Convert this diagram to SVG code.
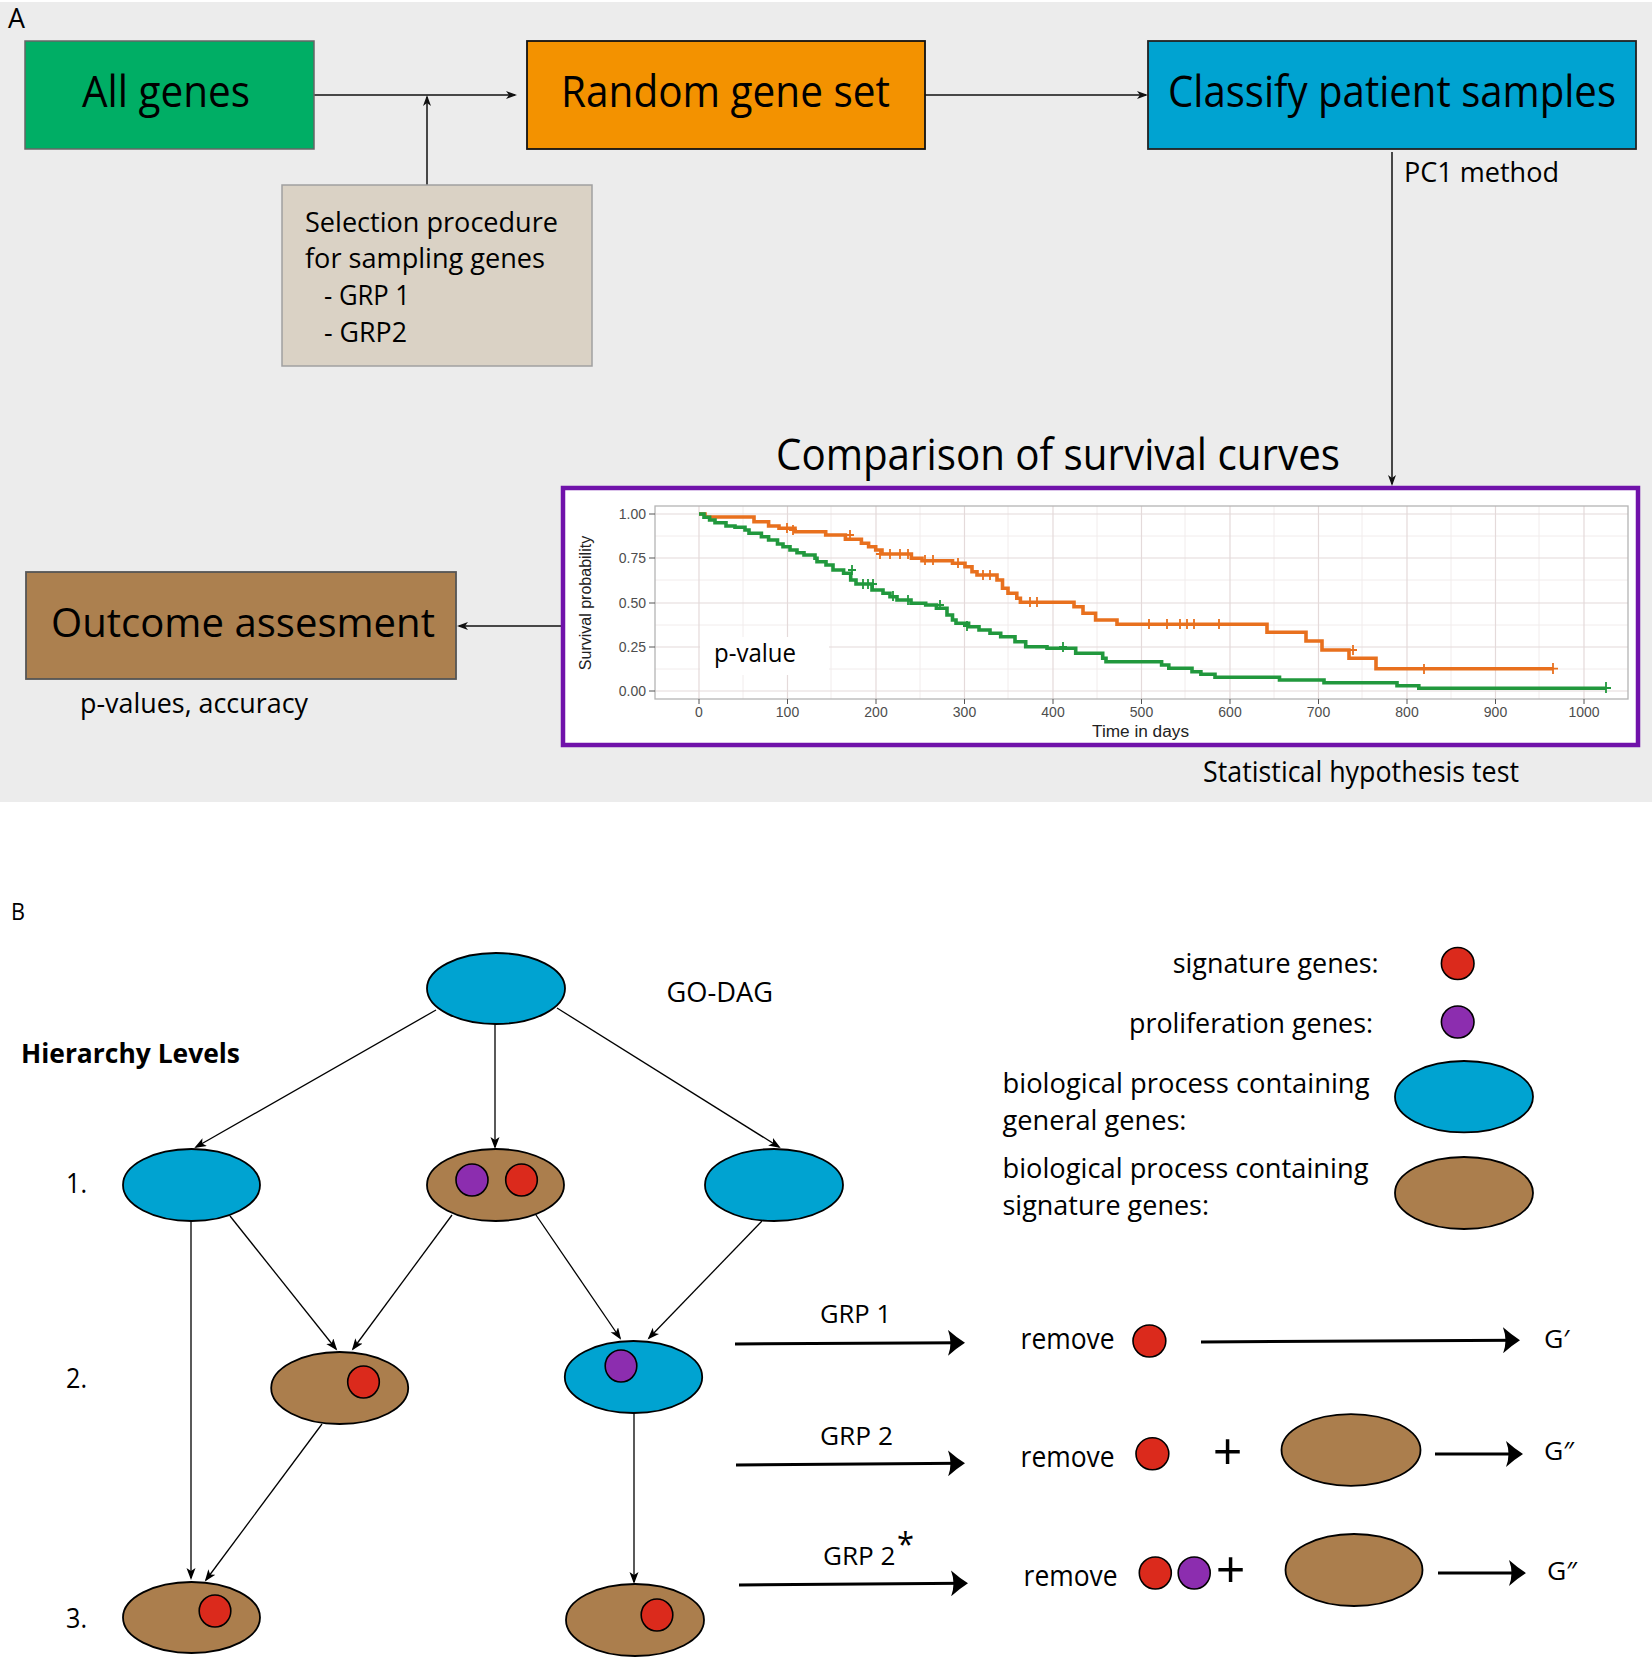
<svg xmlns="http://www.w3.org/2000/svg" width="1652" height="1657" viewBox="0 0 1652 1657">
<style>
.t{font-family:"Open Sans","Noto Sans","DejaVu Sans",sans-serif;fill:#000}
.ax{font-family:"Liberation Sans",Arial,sans-serif;fill:#4d4d4d;font-size:14px}
.blue{fill:#00A3D1;stroke:#000;stroke-width:1.8}
.brown{fill:#AB7E4D;stroke:#000;stroke-width:1.8}
.red{fill:#DB2A1C;stroke:#000;stroke-width:1.6}
.purple{fill:#8C2DAF;stroke:#000;stroke-width:1.6}
.conA{stroke:#111;stroke-width:1.5;fill:none;marker-end:url(#ma)}
.conB{stroke:#000;stroke-width:1.3;fill:none;marker-end:url(#mb)}
.conC{stroke:#000;stroke-width:3;fill:none;marker-end:url(#mc)}
.gmaj{stroke:#E4DADA;stroke-width:1.2}
.gmin{stroke:#F1ECEC;stroke-width:1}
</style>
<defs>
<marker id="ma" markerUnits="userSpaceOnUse" markerWidth="12" markerHeight="10" refX="9" refY="4" orient="auto"><path d="M0,0 L11,4 L0,8 L3,4 z" fill="#111"/></marker>
<marker id="mb" markerUnits="userSpaceOnUse" markerWidth="13" markerHeight="10" refX="10" refY="4.5" orient="auto"><path d="M0,0 L12,4.5 L0,9 L3,4.5 z" fill="#000"/></marker>
<marker id="mc" markerUnits="userSpaceOnUse" markerWidth="18" markerHeight="26" refX="13" refY="13" orient="auto"><path d="M0,0 Q9,8 17,13 Q9,18 0,26 Q5,13 0,0 z" fill="#000"/></marker>
</defs>
<rect x="0" y="0" width="1652" height="1657" fill="#fff"/>
<rect x="0" y="2" width="1652" height="800" fill="#ECECEC"/>
<text class="t" x="8" y="28" font-size="28" textLength="17" lengthAdjust="spacingAndGlyphs">A</text>

<g id="connectors">
<line class="conA" x1="311" y1="95" x2="515" y2="95"/>
<path class="conA" d="M427,185 V97"/>
<line class="conA" x1="925" y1="95" x2="1146" y2="95"/>
<path class="conA" d="M1392,152 V484"/>
<path class="conA" d="M562,626 H459"/>
<path class="conB" d="M436,1010 L196,1147"/>
<path class="conB" d="M495,1024 V1147"/>
<path class="conB" d="M557,1008 L779,1147"/>
<path class="conB" d="M191,1221 V1578"/>
<path class="conB" d="M230,1216 L336,1349"/>
<path class="conB" d="M452,1215 L353,1349"/>
<path class="conB" d="M536,1215 L620,1338"/>
<path class="conB" d="M762,1221 L649,1338"/>
<path class="conB" d="M322,1424 L206,1580"/>
<path class="conB" d="M634,1413 V1582"/>
<line class="conC" x1="735" y1="1344" x2="961" y2="1342.8"/>
<line class="conC" x1="1201" y1="1342" x2="1516" y2="1340.2"/>
<line class="conC" x1="736" y1="1465" x2="961" y2="1463.2"/>
<line class="conC" x1="1435" y1="1454" x2="1519" y2="1454"/>
<line class="conC" x1="739" y1="1585" x2="964" y2="1583.2"/>
<line class="conC" x1="1438" y1="1573" x2="1522" y2="1573"/>
</g>

<g id="all-genes">
<rect x="25" y="41" width="289" height="108" fill="#00AE65" stroke="#666" stroke-width="1.5"/>
<text class="t" x="82" y="107" font-size="43" textLength="168" lengthAdjust="spacingAndGlyphs">All genes</text>
</g>
<g id="random-gene-set">
<rect x="527" y="41" width="398" height="108" fill="#F39200" stroke="#111" stroke-width="1.8"/>
<text class="t" x="561" y="107" font-size="43" textLength="329" lengthAdjust="spacingAndGlyphs">Random gene set</text>
</g>
<g id="classify">
<rect x="1148" y="41" width="488" height="108" fill="#00A3D1" stroke="#222" stroke-width="1.8"/>
<text class="t" x="1168" y="107" font-size="43" textLength="448" lengthAdjust="spacingAndGlyphs">Classify patient samples</text>
</g>
<text class="t" x="1404" y="182" font-size="28" textLength="155" lengthAdjust="spacingAndGlyphs">PC1 method</text>
<g id="selection">
<rect x="282" y="185" width="310" height="181" fill="#DAD2C5" stroke="#A0A0A0" stroke-width="1.5"/>
<text class="t" x="305" y="232" font-size="28" textLength="253" lengthAdjust="spacingAndGlyphs">Selection procedure</text>
<text class="t" x="305" y="268" font-size="28" textLength="240" lengthAdjust="spacingAndGlyphs">for sampling genes</text>
<text class="t" x="324" y="305" font-size="28" textLength="86" lengthAdjust="spacingAndGlyphs">- GRP 1</text>
<text class="t" x="324" y="342" font-size="28" textLength="83" lengthAdjust="spacingAndGlyphs">- GRP2</text>
</g>

<g id="survival">
<text class="t" x="776" y="470" font-size="44" textLength="564" lengthAdjust="spacingAndGlyphs">Comparison of survival curves</text>
<rect x="563" y="488" width="1075" height="257" fill="#fff" stroke="#7012AA" stroke-width="4.5"/>
<g id="grid">
<path class="gmin" d="M655,669 H1628 M655,625 H1628 M655,580 H1628 M655,536 H1628 M743,506 V699 M831,506 V699 M920,506 V699 M1008,506 V699 M1097,506 V699 M1185,506 V699 M1274,506 V699 M1362,506 V699 M1451,506 V699 M1539,506 V699"/>
<path class="gmaj" d="M655,691 H1628 M655,647 H1628 M655,603 H1628 M655,558 H1628 M655,514 H1628 M699,506 V699 M787.5,506 V699 M876,506 V699 M964.5,506 V699 M1053,506 V699 M1141.5,506 V699 M1230,506 V699 M1318.5,506 V699 M1407,506 V699 M1495.5,506 V699 M1584,506 V699"/>
<rect x="700" y="637" width="129" height="38" fill="#fff"/>
<rect x="655" y="506" width="973" height="193" fill="none" stroke="#B4B4B4" stroke-width="1.3"/>
<path d="M649,514 H655 M649,558 H655 M649,603 H655 M649,647 H655 M649,691 H655 M699,699 V704 M787.5,699 V704 M876,699 V704 M964.5,699 V704 M1053,699 V704 M1141.5,699 V704 M1230,699 V704 M1318.5,699 V704 M1407,699 V704 M1495.5,699 V704 M1584,699 V704" stroke="#555" stroke-width="1"/>
</g>
<g text-anchor="end">
<text class="ax" x="646" y="519">1.00</text>
<text class="ax" x="646" y="563">0.75</text>
<text class="ax" x="646" y="608">0.50</text>
<text class="ax" x="646" y="652">0.25</text>
<text class="ax" x="646" y="696">0.00</text>
</g>
<g text-anchor="middle">
<text class="ax" x="699" y="717">0</text>
<text class="ax" x="787.5" y="717">100</text>
<text class="ax" x="876" y="717">200</text>
<text class="ax" x="964.5" y="717">300</text>
<text class="ax" x="1053" y="717">400</text>
<text class="ax" x="1141.5" y="717">500</text>
<text class="ax" x="1230" y="717">600</text>
<text class="ax" x="1318.5" y="717">700</text>
<text class="ax" x="1407" y="717">800</text>
<text class="ax" x="1495.5" y="717">900</text>
<text class="ax" x="1584" y="717">1000</text>
</g>
<text class="ax" x="1092" y="737" textLength="97" lengthAdjust="spacingAndGlyphs" style="font-size:16px;fill:#222">Time in days</text>
<text class="ax" transform="translate(591,603) rotate(-90)" text-anchor="middle" style="font-size:16px;fill:#222">Survival probability</text>
<path d="M699,514 H705 V517 H754 V521.7 H768.6 V526 H779 V528.3 H795 V531.7 H825.7 V535 H845.4 V539.3 H861.4 V543.3 H868.6 V546.7 H875.7 V550 H882 V554 H911.4 V558.3 H922 V560.7 H952.5 V563.3 H965 V566.7 H972 V571.7 H977 V575 H997 V580 H1002.5 V588.3 H1008 V593.3 H1016.8 V598.3 H1020.4 V602.3 H1074 V606.7 H1083 V613.3 H1095.6 V620 H1117 V624.3 H1267 V632.3 H1306 V641 H1322 V650 H1349 V658.3 H1376 V668.7 H1553" fill="none" stroke="#E8701E" stroke-width="3.6"/>
<path d="M787,523 v10 M783,528 h8 M793,525 v10 M789,530 h8 M850,530 v10 M846,535 h8 M880,549 v10 M876,554 h8 M890,549 v10 M886,554 h8 M900,549 v10 M896,554 h8 M908,549 v10 M904,554 h8 M925,555 v10 M921,560 h8 M933,555 v10 M929,560 h8 M958,558 v10 M954,563 h8 M983,570 v10 M979,575 h8 M990,570 v10 M986,575 h8 M1030,597 v10 M1026,602 h8 M1037,597 v10 M1033,602 h8 M1149,619 v10 M1145,624 h8 M1167,619 v10 M1163,624 h8 M1180,619 v10 M1176,624 h8 M1187,619 v10 M1183,624 h8 M1194,619 v10 M1190,624 h8 M1219,619 v10 M1215,624 h8 M1353,645 v10 M1349,650 h8 M1424,664 v10 M1420,669 h8 M1553,663 v11 M1548,668.7 h10" fill="none" stroke="#E8701E" stroke-width="1.8"/>
<path d="M699,514 H704 V517.3 H709.6 V520 H715 V522.7 H726 V526 H735 V527.3 H745 V530 H749 V533.3 H761.4 V536.7 H768.6 V540 H777.5 V544 H783 V546.7 H790 V550 H797 V552.7 H804 V555 H815 V558.3 H817 V561.7 H826 V565 H833 V570 H843.6 V573.3 H850.7 V580 H856 V584 H872 V590 H883 V593.3 H890 V596.7 H897 V600 H911 V603.3 H925.7 V605 H936.4 V608.3 H947 V615 H952.5 V620 H956 V623.3 H968.6 V626.7 H979 V630 H990 V633.3 H1000.7 V636.7 H1015 V641.7 H1025.7 V646.7 H1047 V648.3 H1075.7 V653.3 H1102.7 V658.3 H1106 V661.7 H1161.6 V665 H1168.8 V668.3 H1192 V671.7 H1200.9 V674.3 H1215 V677.3 H1279.5 V680 H1324 V682.7 H1397 V685.7 H1418.8 V688.3 H1606" fill="none" stroke="#21983D" stroke-width="3.6"/>
<path d="M852,565 v10 M848,570 h8 M863,579 v10 M859,584 h8 M868,579 v10 M864,584 h8 M873,579 v10 M869,584 h8 M893,591 v10 M889,596 h8 M908,595 v10 M904,600 h8 M940,600 v10 M936,605 h8 M967,621 v10 M963,626 h8 M1063,642 v10 M1059,647 h8 M1606,682 v11 M1601,688 h10" fill="none" stroke="#21983D" stroke-width="1.8"/>
<text class="t" x="714" y="662" font-size="25" textLength="82" lengthAdjust="spacingAndGlyphs">p-value</text>
</g>
<text class="t" x="1203" y="782" font-size="29" textLength="316" lengthAdjust="spacingAndGlyphs">Statistical hypothesis test</text>

<g id="outcome">
<rect x="26" y="572" width="430" height="107" fill="#AC804F" stroke="#555" stroke-width="1.8"/>
<text class="t" x="51" y="637" font-size="41" textLength="384" lengthAdjust="spacingAndGlyphs">Outcome assesment</text>
</g>
<text class="t" x="80" y="713" font-size="27" textLength="228" lengthAdjust="spacingAndGlyphs">p-values, accuracy</text>

<text class="t" x="11" y="920" font-size="24" textLength="14" lengthAdjust="spacingAndGlyphs">B</text>
<text class="t" x="666.5" y="1002" font-size="27" textLength="106.5" lengthAdjust="spacingAndGlyphs">GO-DAG</text>
<text class="t" x="21" y="1063" font-size="26" font-weight="bold" textLength="219" lengthAdjust="spacingAndGlyphs">Hierarchy Levels</text>
<text class="t" x="66" y="1193" font-size="28" textLength="21" lengthAdjust="spacingAndGlyphs">1.</text>
<text class="t" x="66" y="1388" font-size="28" textLength="21" lengthAdjust="spacingAndGlyphs">2.</text>
<text class="t" x="66" y="1628" font-size="28" textLength="21" lengthAdjust="spacingAndGlyphs">3.</text>

<g id="root"><ellipse class="blue" cx="496" cy="988.5" rx="69" ry="35.5"/></g>
<g id="l1-left"><ellipse class="blue" cx="191.5" cy="1185" rx="68.5" ry="36"/></g>
<g id="l1-mid"><ellipse class="brown" cx="495.5" cy="1185" rx="68.5" ry="36"/><ellipse class="purple" cx="472" cy="1180" rx="16" ry="16"/><ellipse class="red" cx="521.5" cy="1180" rx="15.8" ry="16"/></g>
<g id="l1-right"><ellipse class="blue" cx="774" cy="1185" rx="69" ry="36"/></g>
<g id="l2-left"><ellipse class="brown" cx="339.7" cy="1388" rx="68.5" ry="36"/><ellipse class="red" cx="363.5" cy="1382" rx="15.8" ry="16"/></g>
<g id="l2-right"><ellipse class="blue" cx="633.5" cy="1377" rx="68.7" ry="36"/><ellipse class="purple" cx="621" cy="1366" rx="15.8" ry="16"/></g>
<g id="l3-left"><ellipse class="brown" cx="191.5" cy="1617.5" rx="68.5" ry="35.5"/><ellipse class="red" cx="215" cy="1611" rx="15.8" ry="16"/></g>
<g id="l3-right"><ellipse class="brown" cx="635" cy="1620" rx="69" ry="36"/><ellipse class="red" cx="657" cy="1615" rx="15.8" ry="16"/></g>

<g id="legend">
<text class="t" x="1172.7" y="973" font-size="27" textLength="206" lengthAdjust="spacingAndGlyphs">signature genes:</text>
<ellipse class="red" cx="1457.7" cy="963.5" rx="16.3" ry="16"/>
<text class="t" x="1129" y="1033" font-size="27" textLength="244" lengthAdjust="spacingAndGlyphs">proliferation genes:</text>
<ellipse class="purple" cx="1457.7" cy="1022" rx="16.3" ry="16"/>
<text class="t" x="1002.5" y="1093" font-size="27" textLength="367" lengthAdjust="spacingAndGlyphs">biological process containing</text>
<text class="t" x="1002.5" y="1130" font-size="27" textLength="184" lengthAdjust="spacingAndGlyphs">general genes:</text>
<ellipse class="blue" cx="1464" cy="1096.7" rx="69" ry="35.7"/>
<text class="t" x="1002.5" y="1178" font-size="27" textLength="366" lengthAdjust="spacingAndGlyphs">biological process containing</text>
<text class="t" x="1002.5" y="1215" font-size="27" textLength="206.5" lengthAdjust="spacingAndGlyphs">signature genes:</text>
<ellipse class="brown" cx="1464" cy="1193" rx="69" ry="36"/>
</g>

<g id="grp1">
<text class="t" x="820" y="1323" font-size="26" textLength="71" lengthAdjust="spacingAndGlyphs">GRP 1</text>
<text class="t" x="1020.6" y="1349" font-size="29" textLength="94" lengthAdjust="spacingAndGlyphs">remove</text>
<ellipse class="red" cx="1149.4" cy="1341" rx="16.4" ry="16"/>
<text class="t" x="1544" y="1348" font-size="25" textLength="25.5" lengthAdjust="spacingAndGlyphs">G′</text>
</g>
<g id="grp2">
<text class="t" x="820" y="1445" font-size="26" textLength="73" lengthAdjust="spacingAndGlyphs">GRP 2</text>
<text class="t" x="1020.6" y="1467" font-size="29" textLength="94" lengthAdjust="spacingAndGlyphs">remove</text>
<ellipse class="red" cx="1152.4" cy="1453.8" rx="16.4" ry="16"/>
<text class="t" x="1227.5" y="1470" font-size="52" text-anchor="middle">+</text>
<ellipse class="brown" cx="1351" cy="1450" rx="69.5" ry="35.8"/>
<text class="t" x="1544" y="1460" font-size="25" textLength="30" lengthAdjust="spacingAndGlyphs">G″</text>
</g>
<g id="grp2star">
<text class="t" x="823" y="1565" font-size="26" textLength="72.5" lengthAdjust="spacingAndGlyphs">GRP 2</text>
<text class="t" x="897" y="1556" font-size="32" textLength="17" lengthAdjust="spacingAndGlyphs">*</text>
<text class="t" x="1023.6" y="1586" font-size="29" textLength="94" lengthAdjust="spacingAndGlyphs">remove</text>
<ellipse class="red" cx="1155.3" cy="1573" rx="16" ry="16"/>
<ellipse class="purple" cx="1194.2" cy="1573" rx="16" ry="16"/>
<text class="t" x="1230.6" y="1588" font-size="52" text-anchor="middle">+</text>
<ellipse class="brown" cx="1354" cy="1570" rx="68.5" ry="36"/>
<text class="t" x="1547" y="1580" font-size="25" textLength="30" lengthAdjust="spacingAndGlyphs">G″</text>
</g>
</svg>
